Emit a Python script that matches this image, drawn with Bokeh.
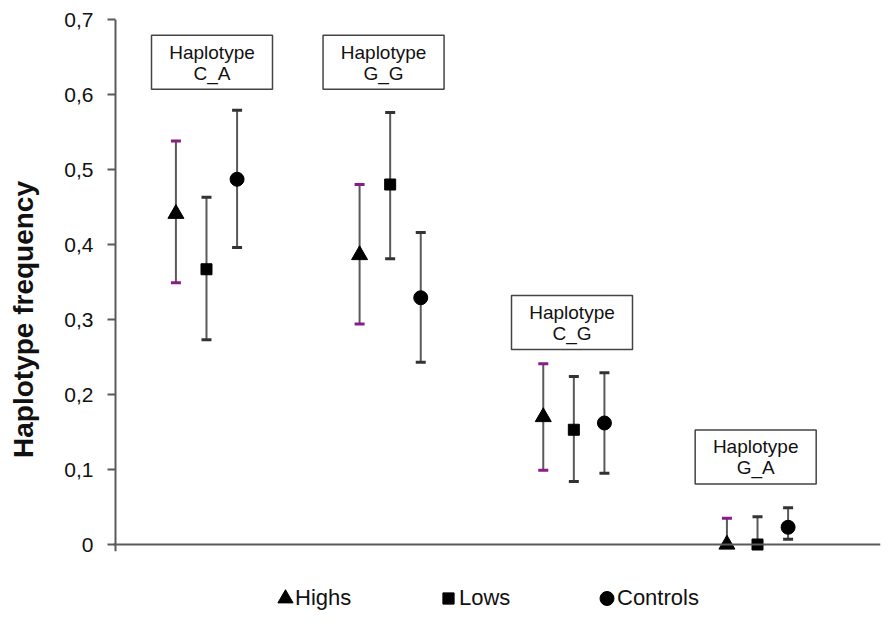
from bokeh.plotting import figure
from bokeh.models import (ColumnDataSource, Whisker, TeeHead, Span, Legend,
                          LegendItem, FixedTicker, Range1d)
from bokeh.core.properties import value
from bokeh.embed import file_html
from bokeh.resources import INLINE

# ---- data ----
groups = ["C_A", "G_G", "C_G", "G_A"]
highs = [0.441, 0.386, 0.170, 0.0]
highs_lo = [0.349, 0.294, 0.099, 0.0]
highs_hi = [0.538, 0.480, 0.241, 0.035]
lows = [0.367, 0.480, 0.153, 0.0]
lows_lo = [0.273, 0.381, 0.084, 0.0]
lows_hi = [0.463, 0.576, 0.224, 0.037]
controls = [0.487, 0.329, 0.162, 0.023]
controls_lo = [0.396, 0.243, 0.095, 0.007]
controls_hi = [0.579, 0.416, 0.229, 0.049]
series_names = ["Highs", "Lows", "Controls"]
y_ticks = [0, 0.1, 0.2, 0.3, 0.4, 0.5, 0.6, 0.7]
y_tick_labels = ["0", "0,1", "0,2", "0,3", "0,4", "0,5", "0,6", "0,7"]
y_axis_title = "Haplotype frequency"
box_titles = ["Haplotype"] * 4
box_x = [1.03, 1.964, 2.99, 3.99]
box_y = [0.643, 0.643, 0.296, 0.1167]

FONT = "Liberation Sans"
GRAY = "#5a5a5a"
PURPLE = "#8b1a8b"

X0 = 0.5046  # where the y axis line sits
p = figure(frame_width=767, frame_height=600, output_backend="svg", toolbar_location=None,
           x_range=Range1d(0.4937, 4.6696), y_range=Range1d(-0.1, 0.7))
p.min_border_left = 113
p.min_border_right = 4
p.min_border_top = 19
p.min_border_bottom = 2
p.outline_line_color = None
p.xgrid.visible = False
p.ygrid.visible = False
p.xaxis.visible = False

ya = p.yaxis[0]
ya.ticker = FixedTicker(ticks=y_ticks)
ya.major_label_overrides = {t: l for t, l in zip(y_ticks, y_tick_labels)}
ya.minor_tick_line_color = None
ya.major_tick_out = 6
ya.major_tick_in = 2
ya.major_tick_line_color = GRAY
ya.major_tick_line_width = 2
ya.axis_line_color = None
ya.major_label_text_font = FONT
ya.major_label_text_font_size = "21px"
ya.major_label_text_color = "#111111"
ya.major_label_standoff = 14
ya.axis_label = y_axis_title
ya.axis_label_text_font = FONT
ya.axis_label_text_font_size = "28px"
ya.axis_label_text_font_style = "bold"
ya.axis_label_text_color = "#111111"
ya.axis_label_standoff = 22

# axis lines
p.segment(x0=[X0], y0=[y_ticks[0] - 0.009], x1=[X0], y1=[y_ticks[-1]], line_color=GRAY, line_width=2)
p.add_layout(Span(location=0, dimension="width", line_color=GRAY, line_width=2))

offsets = [-0.1665, 0.0, 0.1665]
vals = [highs, lows, controls]
los = [highs_lo, lows_lo, controls_lo]
his = [highs_hi, lows_hi, controls_hi]
markers = ["triangle", "square", "circle"]
sizes = [16, 11, 14]
cap_colors = [PURPLE, "#333333", "#333333"]

renderers = []
for i in range(3):
    xs = [g + 1 + offsets[i] for g in range(len(groups))]
    src = ColumnDataSource(dict(x=xs, y=vals[i], lo=los[i], hi=his[i]))
    w = Whisker(base="x", lower="lo", upper="hi", source=src, dimension="height",
                line_color=GRAY, line_width=2, level="underlay",
                upper_head=TeeHead(size=10, line_color=cap_colors[i], line_width=3),
                lower_head=TeeHead(size=10, line_color=cap_colors[i], line_width=3))
    p.add_layout(w)
    r = p.scatter("x", "y", source=src, marker=markers[i], size=sizes[i],
                  fill_color="black", line_color="black")
    renderers.append(r)

# haplotype label boxes
bsrc = ColumnDataSource(dict(x=box_x, y=box_y, t1=box_titles, t2=groups))
p.rect("x", "y", source=bsrc, width=121, height=54, width_units="screen", height_units="screen",
       fill_color="white", line_color="#444444", line_width=1.5)
p.text("x", "y", text="t1", source=bsrc, y_offset=-10, text_align="center", text_baseline="middle",
       text_font=value(FONT), text_font_size="19px", text_color="#111111")
p.text("x", "y", text="t2", source=bsrc, y_offset=11, text_align="center", text_baseline="middle",
       text_font=value(FONT), text_font_size="19px", text_color="#111111")

# legend: marker keys and their labels as separate Legend pieces so the big keys sit
# close to their text, as in the reference
invisible = p.scatter(x=[], y=[], fill_alpha=0, line_alpha=0)
key_x = [153, 321, 476]
key_w = [38, 28, 35]
text_x = [181, 345, 503]
for i in range(3):
    key = Legend(items=[LegendItem(label=" ", renderers=[renderers[i]])],
                 location=(key_x[i], 2), glyph_width=key_w[i], glyph_height=38, label_height=38,
                 label_standoff=0, label_width=1, padding=0, margin=0,
                 border_line_color=None, background_fill_alpha=0,
                 label_text_font_size="2px")
    p.add_layout(key)
    lab = Legend(items=[LegendItem(label=series_names[i], renderers=[invisible])],
                 location=(text_x[i], 2), glyph_width=1, glyph_height=38, label_height=38,
                 label_standoff=0, padding=0, margin=0,
                 border_line_color=None, background_fill_alpha=0,
                 label_text_font=FONT, label_text_font_size="22px", label_text_color="#111111")
    p.add_layout(lab)

open("out.html", "w").write(file_html(p, INLINE))
